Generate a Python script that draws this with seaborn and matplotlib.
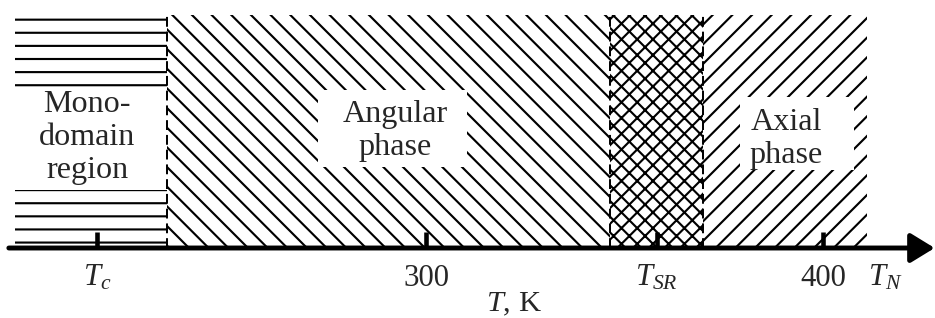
import matplotlib
matplotlib.use("Agg")
import matplotlib.pyplot as plt
import seaborn as sns

# ---- values (temperatures in K) ----
t_c = 217
t_sr = 358
t_n = 411
tick_pos = [t_c, 300, t_sr, 400]
tick_labels = [r"$T_c$", "300", r"$T_{SR}$", "400"]

# phase regions: left edge, right edge
region_left = [196.3, 234.6, 346.2, 369.6]
region_right = [234.6, 346.2, 369.6, t_n]
region_hatch = ["---", "\\\\\\\\", "xxxxx", "////"]
boundaries = [234.6, 346.2, 369.6]

labels = ["Mono-\ndomain\nregion", "Angular\nphase", "Axial\nphase"]

# ---- layout (data units: x in K, y from axis=0 to top=1) ----
label_xy = [(214.5, 0.476), (292.1, 0.502), (390.6, 0.468)]
# white boxes cleared behind the labels: x0, x1, y0, y1
label_box = [(194.0, 234.6, 0.249, 0.687),
             (272.7, 310.1, 0.348, 0.678),
             (379.0, 407.8, 0.335, 0.648)]

DPI = 236
sns.set_theme(style="white")
plt.rcParams["font.family"] = ["Liberation Serif", "DejaVu Serif"]
plt.rcParams["mathtext.fontset"] = "custom"
plt.rcParams["mathtext.rm"] = "Liberation Serif"
plt.rcParams["mathtext.it"] = "Liberation Serif:italic"
plt.rcParams["hatch.linewidth"] = 0.65
plt.rcParams["hatch.color"] = "black"

fig = plt.figure(figsize=(935 / DPI, 318 / DPI), dpi=DPI)
ax = fig.add_axes([0, 0, 1, 1])
ax.set_xlim(192.57, 428.09)
ax.set_ylim(-0.3004, 1.0644)
ax.axis("off")

# hatched phase regions
for x0, x1, h in zip(region_left, region_right, region_hatch):
    ax.fill_between([x0, x1], 0, 1, facecolor="none", edgecolor="black",
                    linewidth=0, hatch=h, zorder=1)

# clear space for the labels
for x0, x1, y0, y1 in label_box:
    ax.fill_between([x0, x1], y0, y1, color="white", linewidth=0, zorder=2)

# dashed phase boundaries
ax.vlines(boundaries, 0, 1, colors="black", linewidth=0.6,
          linestyles=[(0, (5, 2.5))], zorder=3)

# region labels
for (x, y), txt in zip(label_xy, labels):
    ax.text(x, y, txt, ha="center", va="center", fontsize=9.8,
            linespacing=1.18, zorder=4)

# temperature axis with arrow
ax.annotate("", xy=(428.0, 0), xytext=(194.8, 0), zorder=5,
            arrowprops=dict(arrowstyle="-|>,head_length=0.62,head_width=0.38",
                            mutation_scale=10, lw=1.5, color="black",
                            shrinkA=0, shrinkB=0))
ax.vlines(tick_pos, 0, 0.07, colors="black", linewidth=1.4, zorder=5)

for x, lab in zip(tick_pos, tick_labels):
    ax.text(x, -0.163, lab, ha="center", va="baseline", fontsize=9.4)
ax.text(t_n + 0.2, -0.163, r"$T_N$", ha="left", va="baseline", fontsize=9.4)
ax.text(322.0, -0.272, r"$T$, K", ha="center", va="baseline", fontsize=9.3)

fig.savefig("out.png", dpi=DPI)
